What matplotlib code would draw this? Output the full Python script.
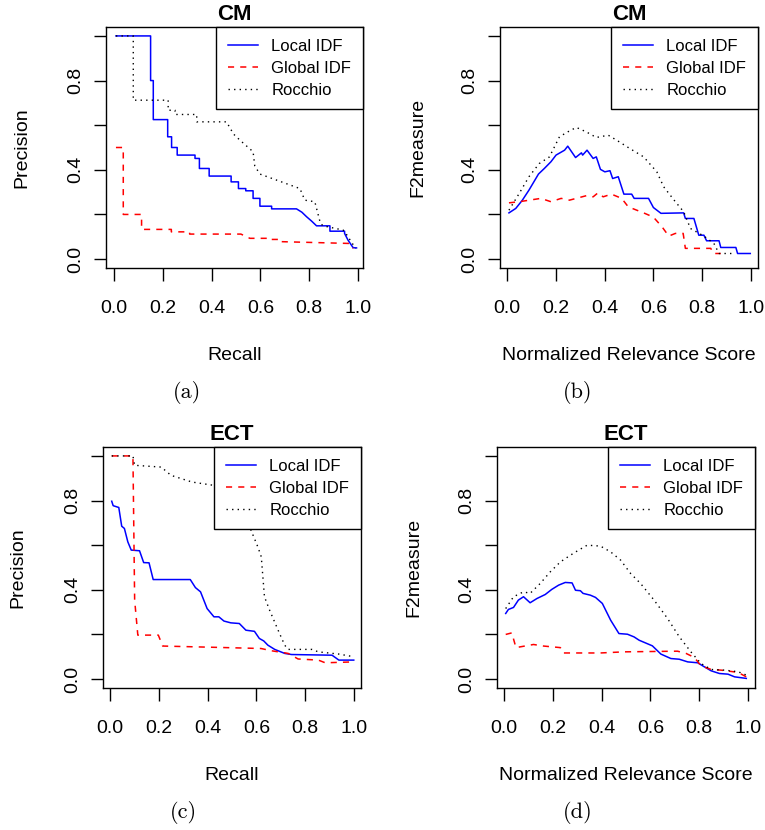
import matplotlib.pyplot as plt

plt.rcParams['font.family'] = ['Liberation Sans', 'DejaVu Sans']

W, H = 765, 830

# ---- (a) CM: precision vs recall ----
a_local_x = [0.008, 0.150, 0.150, 0.161, 0.161, 0.22, 0.22, 0.236, 0.236, 0.259, 0.259, 0.332, 0.332,
             0.35, 0.35, 0.39, 0.39, 0.48, 0.48, 0.51, 0.51, 0.54, 0.54, 0.57, 0.57, 0.598, 0.598,
             0.646, 0.646, 0.748, 0.77, 0.789, 0.81, 0.83, 0.885, 0.885, 0.945, 0.945, 0.959, 0.98, 0.994]
a_local_y = [1.0, 1.0, 0.8, 0.8, 0.625, 0.625, 0.548, 0.548, 0.5, 0.5, 0.466, 0.466, 0.451,
             0.451, 0.406, 0.406, 0.372, 0.372, 0.346, 0.346, 0.316, 0.316, 0.306, 0.306, 0.272, 0.272, 0.237,
             0.237, 0.225, 0.225, 0.21, 0.19, 0.17, 0.149, 0.149, 0.125, 0.125, 0.115, 0.085, 0.051, 0.05]
a_global_x = [0.008, 0.038, 0.038, 0.113, 0.113, 0.235, 0.235, 0.31, 0.31, 0.52, 0.557, 0.646, 0.646,
              0.686, 0.686, 0.966, 0.98]
a_global_y = [0.5, 0.5, 0.2, 0.2, 0.133, 0.133, 0.122, 0.122, 0.112, 0.112, 0.093, 0.093, 0.088,
              0.088, 0.078, 0.070, 0.048]
a_rocchio_x = [0.008, 0.079, 0.079, 0.222, 0.222, 0.25, 0.25, 0.339, 0.339, 0.461, 0.49, 0.516, 0.57,
               0.577, 0.598, 0.666, 0.762, 0.782, 0.823, 0.846, 0.857, 0.939, 0.95, 0.99]
a_rocchio_y = [1.0, 1.0, 0.712, 0.712, 0.667, 0.667, 0.648, 0.648, 0.615, 0.615, 0.56, 0.533, 0.481,
               0.417, 0.381, 0.354, 0.316, 0.264, 0.257, 0.160, 0.149, 0.13, 0.115, 0.048]

# ---- (b) CM: F2 vs normalized relevance score ----
b_local_x = [0.008, 0.036, 0.063, 0.09, 0.129, 0.153, 0.18, 0.201, 0.236, 0.249, 0.281, 0.305, 0.31,
             0.328, 0.353, 0.366, 0.383, 0.401, 0.422, 0.433, 0.456, 0.479, 0.511, 0.521, 0.58, 0.6,
             0.631, 0.724, 0.731, 0.766, 0.786, 0.807, 0.818, 0.869, 0.876, 0.938, 0.945, 0.997]
b_local_y = [0.207, 0.227, 0.264, 0.309, 0.381, 0.406, 0.436, 0.466, 0.488, 0.506, 0.455, 0.476, 0.466,
             0.488, 0.451, 0.458, 0.402, 0.391, 0.396, 0.361, 0.369, 0.291, 0.291, 0.272, 0.272, 0.231,
             0.205, 0.207, 0.182, 0.182, 0.107, 0.107, 0.082, 0.082, 0.052, 0.052, 0.025, 0.025]
b_global_x = [0.008, 0.05, 0.139, 0.18, 0.222, 0.256, 0.325, 0.353, 0.373, 0.394, 0.428, 0.47, 0.497,
              0.532, 0.56, 0.6, 0.635, 0.663, 0.69, 0.722, 0.731, 0.835, 0.846, 0.876]
b_global_y = [0.252, 0.257, 0.272, 0.257, 0.272, 0.264, 0.284, 0.279, 0.297, 0.279, 0.291, 0.272, 0.234,
              0.219, 0.207, 0.188, 0.145, 0.103, 0.115, 0.115, 0.048, 0.048, 0.025, 0.025]
b_rocchio_x = [0.008, 0.05, 0.09, 0.132, 0.174, 0.215, 0.249, 0.284, 0.325, 0.366, 0.415, 0.449, 0.504,
               0.56, 0.614, 0.642, 0.69, 0.724, 0.752, 0.807, 0.848, 0.869, 0.924]
b_rocchio_y = [0.219, 0.294, 0.369, 0.428, 0.458, 0.548, 0.570, 0.590, 0.570, 0.545, 0.555, 0.533, 0.495,
               0.458, 0.391, 0.324, 0.257, 0.212, 0.137, 0.103, 0.070, 0.025, 0.025]

# ---- (c) ECT: precision vs recall ----
c_local_x = [0.007, 0.013, 0.036, 0.048, 0.059, 0.073, 0.087, 0.121, 0.138, 0.16, 0.177, 0.329, 0.35,
             0.371, 0.398, 0.426, 0.446, 0.467, 0.495, 0.53, 0.557, 0.592, 0.612, 0.63, 0.647, 0.675,
             0.716, 0.744, 0.91, 0.938, 0.999]
c_local_y = [0.797, 0.777, 0.769, 0.685, 0.675, 0.615, 0.578, 0.575, 0.522, 0.521, 0.446, 0.446, 0.41,
             0.391, 0.316, 0.279, 0.279, 0.260, 0.252, 0.249, 0.219, 0.214, 0.182, 0.171, 0.152, 0.133,
             0.115, 0.11, 0.107, 0.085, 0.085]
c_global_x = [0.007, 0.094, 0.101, 0.114, 0.198, 0.216, 0.44, 0.619, 0.661, 0.73, 0.771, 0.854, 0.882, 0.999]
c_global_y = [1.0, 1.0, 0.354, 0.197, 0.197, 0.148, 0.142, 0.137, 0.127, 0.115, 0.09, 0.085, 0.073, 0.077]
c_rocchio_x = [0.007, 0.094, 0.101, 0.21, 0.25, 0.336, 0.426, 0.467, 0.509, 0.564, 0.606, 0.62, 0.633,
               0.654, 0.689, 0.716, 0.73, 0.827, 0.854, 0.938, 0.999]
c_rocchio_y = [1.0, 1.0, 0.958, 0.95, 0.913, 0.883, 0.868, 0.822, 0.771, 0.704, 0.592, 0.548, 0.369,
               0.309, 0.219, 0.152, 0.133, 0.133, 0.122, 0.112, 0.1]

# ---- (d) ECT: F2 vs normalized relevance score ----
d_local_x = [0.007, 0.018, 0.039, 0.059, 0.08, 0.107, 0.135, 0.169, 0.196, 0.224, 0.251, 0.279, 0.293,
             0.313, 0.324, 0.354, 0.375, 0.403, 0.437, 0.471, 0.506, 0.533, 0.554, 0.608, 0.643, 0.684,
             0.718, 0.753, 0.794, 0.821, 0.849, 0.883, 0.918, 0.945, 0.993]
d_local_y = [0.294, 0.312, 0.321, 0.354, 0.369, 0.342, 0.361, 0.379, 0.402, 0.421, 0.433, 0.431, 0.398,
             0.396, 0.384, 0.376, 0.366, 0.339, 0.264, 0.204, 0.201, 0.189, 0.174, 0.149, 0.112, 0.092,
             0.089, 0.077, 0.073, 0.055, 0.037, 0.025, 0.022, 0.01, 0.003]
d_global_x = [0.007, 0.032, 0.049, 0.121, 0.162, 0.231, 0.242, 0.395, 0.492, 0.711, 0.746, 0.78, 0.807,
              0.849, 0.89, 0.959, 0.993]
d_global_y = [0.2, 0.207, 0.141, 0.155, 0.148, 0.141, 0.117, 0.117, 0.122, 0.125, 0.115, 0.097, 0.06,
              0.043, 0.04, 0.03, 0.01]
d_rocchio_x = [0.007, 0.039, 0.08, 0.107, 0.148, 0.19, 0.231, 0.272, 0.306, 0.341, 0.395, 0.437, 0.478,
               0.519, 0.56, 0.615, 0.67, 0.718, 0.766, 0.807, 0.849, 0.904, 0.959, 0.993]
d_rocchio_y = [0.316, 0.369, 0.391, 0.384, 0.428, 0.481, 0.525, 0.555, 0.578, 0.600, 0.596, 0.570, 0.533,
               0.473, 0.428, 0.354, 0.272, 0.19, 0.122, 0.070, 0.043, 0.04, 0.033, 0.018]

series_names = ['Local IDF', 'Global IDF', 'Rocchio']
y_ticks = [0.0, 0.2, 0.4, 0.6, 0.8, 1.0]
y_tick_labels = ['0.0', '', '0.4', '', '0.8', '']
x_ticks = [0.0, 0.2, 0.4, 0.6, 0.8, 1.0]
x_tick_labels = ['0.0', '0.2', '0.4', '0.6', '0.8', '1.0']

fig = plt.figure(figsize=(W / 100, H / 100), dpi=100)


def px(x, y):
    return x / W, 1 - y / H


def panel(box, tick0, tick1, title, xlabel, ylabel, ylab_x, caption, cap_x, data):
    x0, y0, x1, y1 = box
    ax = fig.add_axes([x0 / W, 1 - y1 / H, (x1 - x0) / W, (y1 - y0) / H])
    scale = tick1 - tick0
    ax.set_xlim((x0 - tick0) / scale, (x1 - tick0) / scale)
    ax.set_ylim(-0.04, 1.04)
    (lx, ly), (gx, gy), (rx, ry) = data
    ax.plot(lx, ly, color='blue', lw=1.1, label=series_names[0])
    ax.plot(gx, gy, color='red', lw=1.1, dashes=(4, 4), label=series_names[1])
    ax.plot(rx, ry, color='black', lw=1.0, dashes=(1, 3), label=series_names[2])
    ax.set_xticks(x_ticks)
    ax.set_xticklabels(x_tick_labels, fontsize=14)
    ax.set_yticks(y_ticks)
    ax.set_yticklabels(y_tick_labels, fontsize=14, rotation=90, va='center')
    ax.tick_params(axis='x', length=9, width=1, pad=14)
    ax.tick_params(axis='y', length=9, width=1, pad=7)
    for s in ax.spines.values():
        s.set_linewidth(1.0)
    leg = ax.legend(loc='upper right', borderaxespad=0, fontsize=12, handlelength=1.8,
                    handletextpad=0.8, labelspacing=0.42, borderpad=0.7, fancybox=False,
                    edgecolor='black', framealpha=1)
    leg.get_frame().set_linewidth(1.0)
    cx = (x0 + x1) / 2
    fig.text(*px(cx, y0 - 13), title, fontsize=16, fontweight='bold', ha='center', va='center')
    fig.text(*px(cx, y1 + 87), xlabel, fontsize=14, ha='center', va='center')
    fig.text(*px(ylab_x, (y0 + y1) / 2), ylabel, fontsize=14, ha='center', va='center', rotation=90)
    fig.text(*px(cap_x, y1 + 124), caption, fontsize=16, family='cmr10', ha='center', va='center')
    return ax


panel((106, 27, 363, 268), 114, 358, 'CM', 'Recall', 'Precision', 22, '(a)', 187,
      [(a_local_x, a_local_y), (a_global_x, a_global_y), (a_rocchio_x, a_rocchio_y)])
panel((500, 27, 758, 268), 507, 751, 'CM', 'Normalized Relevance Score', 'F2measure', 418, '(b)', 578,
      [(b_local_x, b_local_y), (b_global_x, b_global_y), (b_rocchio_x, b_rocchio_y)])
panel((103, 447, 361, 688), 110, 354, 'ECT', 'Recall', 'Precision', 18, '(c)', 183,
      [(c_local_x, c_local_y), (c_global_x, c_global_y), (c_rocchio_x, c_rocchio_y)])
panel((497, 447, 755, 688), 504, 748, 'ECT', 'Normalized Relevance Score', 'F2measure', 414, '(d)', 578,
      [(d_local_x, d_local_y), (d_global_x, d_global_y), (d_rocchio_x, d_rocchio_y)])

fig.savefig('out.png', dpi=100)
